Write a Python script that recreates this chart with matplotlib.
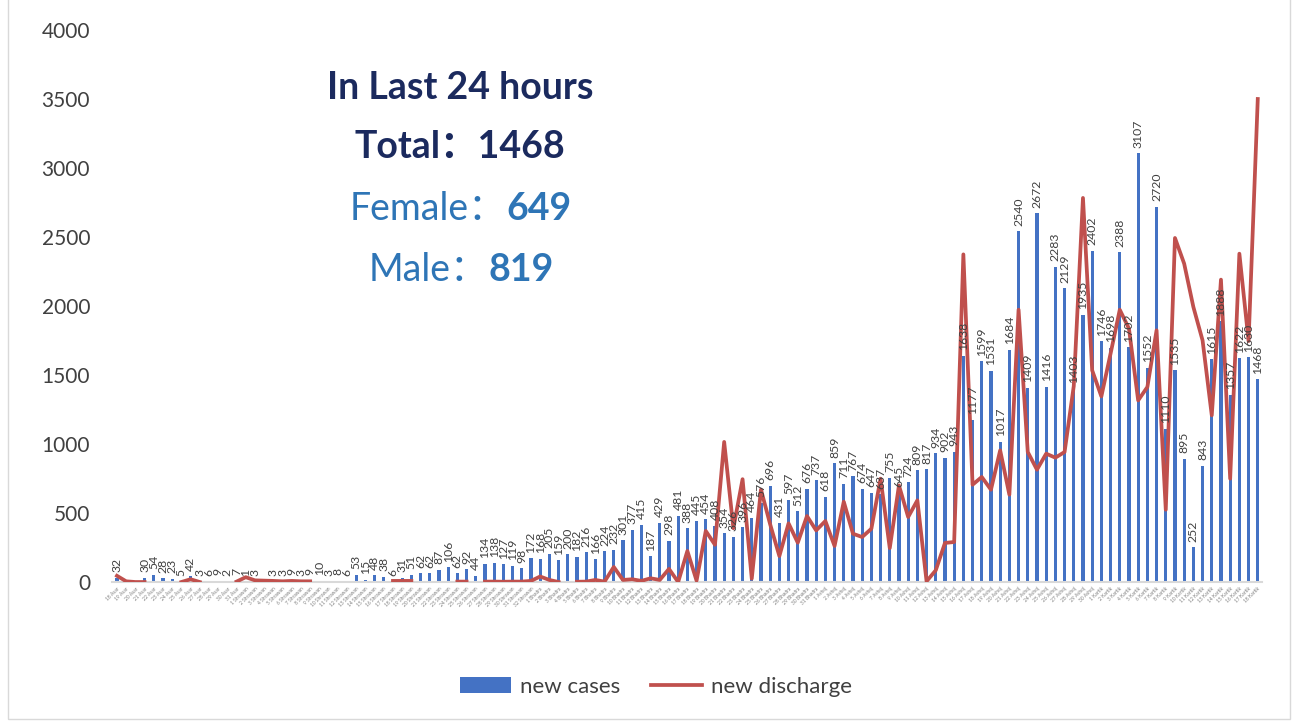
import numpy as np
import matplotlib
matplotlib.use("Agg")
import matplotlib.pyplot as plt
from matplotlib.patches import Patch, Rectangle
from matplotlib.lines import Line2D

plt.rcParams['font.family'] = ['Lato', 'Noto Sans CJK SC', 'DejaVu Sans']

## dates (nepali calendar), 18 Asar -> 18 Kartik
dates = ([f"{d} Asar" for d in range(18, 32)] +
         [f"{d} Shrawan" for d in range(1, 33)] +
         [f"{d} Bhadra" for d in range(1, 32)] +
         [f"{d} Ashoj" for d in range(1, 31)] +
         [f"{d} Kartik" for d in range(1, 19)])

nan = np.nan
new_cases = [32, nan, nan, 30, 54, 28, 23, 5, 42, 3, 6, 9, 2, 7,
             1, 3, nan, 3, 3, 9, 3, 9, 10, 3, 8, 6, 53, 15, 48, 38, 6, 31,
             51, 62, 62, 87, 106, 62, 92, 44, 134, 138, 127, 119, 98, 172,
             168, 205, 159, 200, 182, 216, 166, 224, 232, 301, 377, 415, 187, 429,
             298, 481, 388, 445, 454, 408, 354, 326, 396, 464, 576, 696, 431, 597,
             512, 676, 737, 618, 859, 711, 767, 674, 647, 637, 755, 645, 724, 809,
             817, 934, 902, 943, 1638, 1177, 1599, 1531, 1017, 1684, 2540, 1409,
             2672, 1416, 2283, 2129, 1403, 1935, 2402,
             1746, 1698, 2388, 1702, 3107, 1552, 2720, 1110, 1535, 895, 252, 843,
             1615, 1888, 1357, 1622, 1630, 1468]

new_discharge = [45, 5, 0, 0, nan, nan, nan, 0, 20, 0, nan, nan, nan, 3,
                 35, 12, 10, 8, 5, 8, 5, 5, nan, nan, nan, nan, nan, nan, nan, nan, 8, 8,
                 8, nan, nan, nan, nan, 3, 3, nan, 3, 3, 2, 3, 3, 8,
                 40, 15, 0, nan, 2, 3, 15, 3, 109, 15, 20, 8, 27, 15,
                 95, 0, 225, 10, 370, 270, 1015, 390, 745, 25, 670, 418, 188, 425,
                 285, 478, 374, 442, 261, 582, 350, 326, 386, 749, 246, 700, 471, 592,
                 5, 85, 283, 290, 2374, 705, 761, 669, 954, 633, 1973, 942,
                 814, 930, 901, 942, 1420, 2783, 1534,
                 1345, 1655, 1973, 1836, 1316, 1413, 1824, 524, 2493, 2307, 1993, 1751,
                 1208, 2191, 749, 2379, 1746, 3500]

blue = '#4472C4'
red = '#C0504D'

fig = plt.figure(figsize=(12.99, 7.23), dpi=100)
ax = fig.add_axes([0.0865, 0.195, 0.8853, 0.7635])

x = np.arange(len(dates))
ax.bar(x, new_cases, width=0.35, color=blue, zorder=2)
ax.plot(x, new_discharge, color=red, lw=2.7, zorder=3)

## data labels on bars
for i, v in enumerate(new_cases):
    if not np.isnan(v):
        ax.annotate(str(int(v)), (i, v), xytext=(0, 4), textcoords='offset points',
                    rotation=90, ha='center', va='bottom', fontsize=8.8, color='#404040',
                    zorder=4)

ax.set_xlim(-0.5, len(dates) - 0.5)
ax.set_ylim(0, 4000)
ax.set_yticks(range(0, 4001, 500))
ax.set_xticks(x)
ax.set_xticklabels(dates, rotation=45, ha='right', rotation_mode='anchor',
                   fontsize=3.5, color='#7F7F7F')
for s in ['top', 'right', 'left']:
    ax.spines[s].set_visible(False)
ax.spines['bottom'].set_color('#D9D9D9')
ax.spines['bottom'].set_linewidth(1.5)
ax.tick_params(axis='y', length=0, labelsize=15, labelcolor='#404040', pad=16)
ax.tick_params(axis='x', length=0, pad=3)

## summary text
navy = '#1B2A5E'
tblue = '#2E75B6'
fs = 27
fig.text(0.354, 0.878, 'In Last 24 hours', ha='center', va='center',
         fontsize=fs, fontweight='bold', color=navy)
fig.text(0.354, 0.797, 'Total：1468', ha='center', va='center',
         fontsize=fs, fontweight='bold', color=navy)
fig.text(0.3895, 0.711, 'Female：', ha='right', va='center', fontsize=fs, color=tblue)
fig.text(0.3895, 0.711, '649', ha='left', va='center', fontsize=fs,
         fontweight='bold', color=tblue)
fig.text(0.3757, 0.627, 'Male：', ha='right', va='center', fontsize=fs, color=tblue)
fig.text(0.3757, 0.627, '819', ha='left', va='center', fontsize=fs,
         fontweight='bold', color=tblue)

handles = [Patch(facecolor=blue), Line2D([0], [0], color=red, lw=2.7)]
fig.legend(handles, ['new cases', 'new discharge'], loc='center',
           bbox_to_anchor=(0.505, 0.05), ncol=2, frameon=False, fontsize=16,
           handlelength=2.3, handletextpad=0.4, columnspacing=1.4,
           labelcolor='#404040')

## chart border
fig.patches.append(Rectangle((0.006, 0.005), 0.987, 1.1, transform=fig.transFigure,
                             fill=False, edgecolor='#D9D9D9', lw=1))

fig.savefig('out.png', dpi=100)
